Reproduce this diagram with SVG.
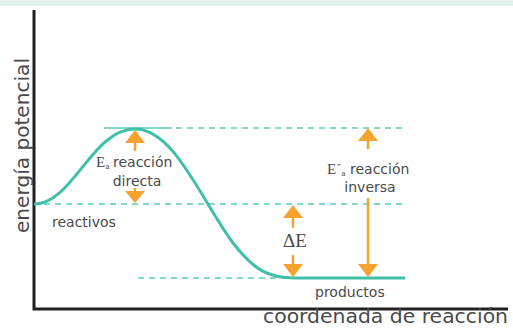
<svg xmlns="http://www.w3.org/2000/svg" width="513" height="332" viewBox="0 0 513 332">
<defs>
<style>
.t{font-family:"DejaVu Sans","Liberation Sans",sans-serif;fill:#4a4a4a;font-size:14px}
.big{font-size:19px}
.sub{font-family:"DejaVu Sans","Liberation Sans",sans-serif;font-size:7px}
.s{font-family:"Liberation Serif","DejaVu Serif",serif;fill:#4a4a4a}
.dash{stroke:#5ccbb6;stroke-width:1.5;stroke-dasharray:6 5;fill:none}
.arr{stroke:#f5a22f;stroke-width:2.5;fill:none}
.head{fill:#f5a22f}
.axis{stroke:#231f20;stroke-width:3;fill:none}
</style>
</defs>
<rect x="0" y="0" width="513" height="6" fill="#dff2ec"/>
<g id="axes">
<path class="axis" d="M34,10 V309 H508"/>
<text class="t big" x="263" y="323" textLength="245" lengthAdjust="spacingAndGlyphs">coordenada de reacción</text>
<text class="t big" transform="translate(29,233) rotate(-90)" textLength="175" lengthAdjust="spacingAndGlyphs">energía potencial</text>
</g>
<g id="levels">
<line x1="104" y1="128" x2="172" y2="128" stroke="#5ccbb6" stroke-width="1.5"/>
<line class="dash" x1="176" y1="128" x2="403" y2="128"/>
<line class="dash" x1="44" y1="204" x2="403" y2="204"/>
<line class="dash" x1="138" y1="278" x2="290" y2="278"/>
</g>
<g id="curve">
<path d="M34,204 C72,205 92,129 135,129 C174,129 200,198 233,243 C254,270 268,278 295,278 L405,278" fill="none" stroke="#40bfa8" stroke-width="3"/>
</g>
<g id="reactivos"><text class="t" x="52" y="227">reactivos</text></g>
<g id="productos"><text class="t" x="315" y="297">productos</text></g>
<g id="connectors">
<line class="arr" x1="135" y1="140" x2="135" y2="151"/>
<polygon class="head" points="135,130 145,143 125,143"/>
<line class="arr" x1="135" y1="188" x2="135" y2="195"/>
<polygon class="head" points="135,203 145,191 125,191"/>
<line class="arr" x1="293" y1="215" x2="293" y2="228"/>
<polygon class="head" points="293,205 303,218 283,218"/>
<line class="arr" x1="293" y1="255" x2="293" y2="268"/>
<polygon class="head" points="293,277 303,264 283,264"/>
<line class="arr" x1="368" y1="138" x2="368" y2="149"/>
<polygon class="head" points="368,128 378,141 358,141"/>
<line class="arr" x1="368" y1="198" x2="368" y2="268"/>
<polygon class="head" points="368,277 378,264 358,264"/>
</g>
<g id="ea-directa">
<text class="s" x="96" y="167" style="font-size:15px">E<tspan class="sub" dy="2">a</tspan><tspan class="t" x="113" dy="-2">reacción</tspan></text>
<text class="t" x="137" y="186" text-anchor="middle">directa</text>
</g>
<g id="delta-e">
<text class="s" x="283" y="247" style="font-size:19px">ΔE</text>
</g>
<g id="ea-inversa">
<text class="s" x="327" y="174" style="font-size:15px">E´<tspan class="sub" dy="2">a</tspan><tspan class="t" x="350" dy="-2">reacción</tspan></text>
<text class="t" x="370" y="192" text-anchor="middle">inversa</text>
</g>
</svg>
